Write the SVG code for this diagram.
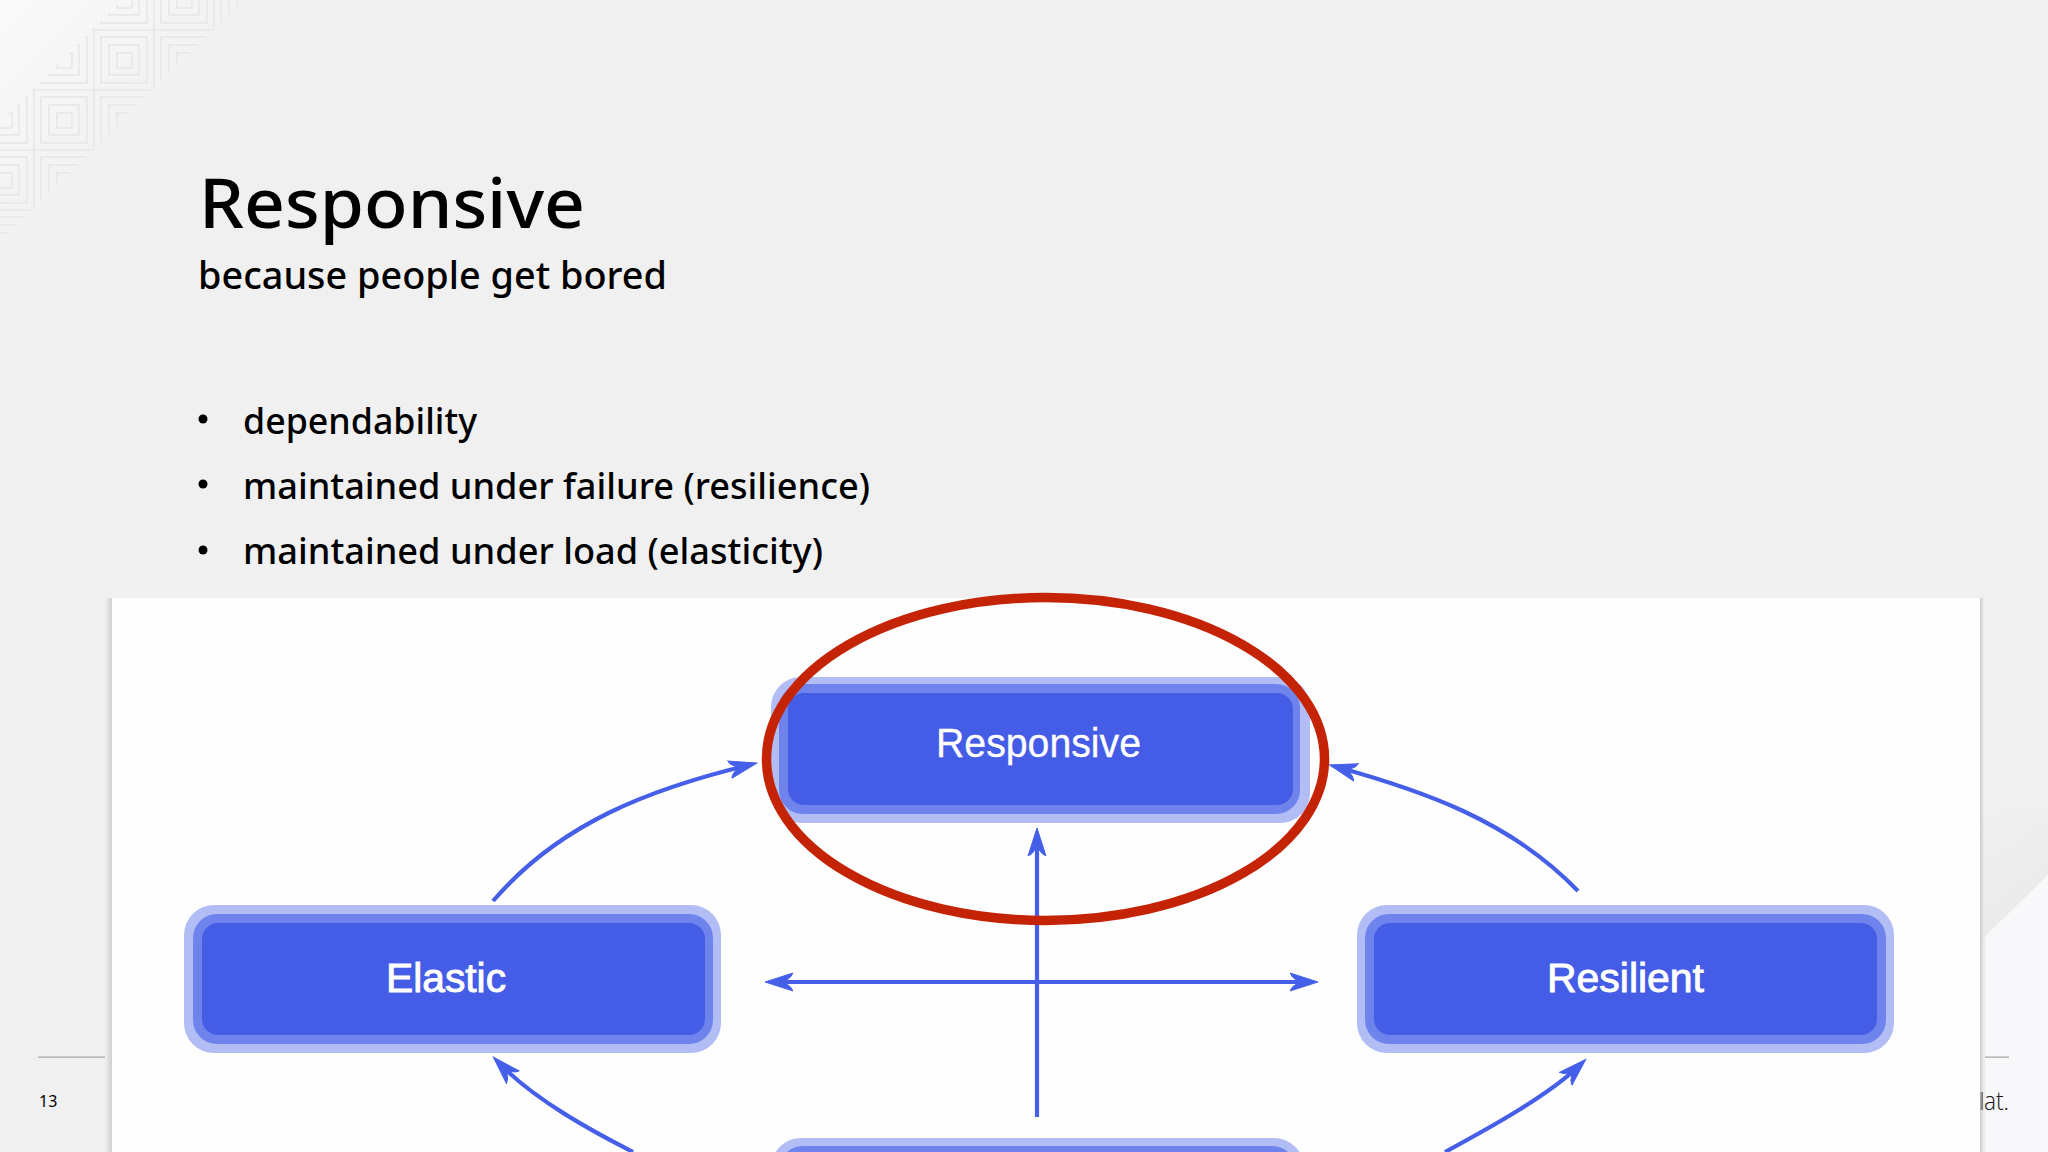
<svg xmlns="http://www.w3.org/2000/svg" width="2048" height="1152" viewBox="0 0 2048 1152">
<style>
.slide{font-family:"Noto Sans","Liberation Sans",sans-serif;font-weight:500;fill:#000}
.nl{font-family:"Liberation Sans",Arial,sans-serif;font-size:40px;fill:#fff;stroke:#fff;stroke-width:.3}
.bold{stroke-width:.9}
.o{fill:#b2bdf5}.m{fill:#6e84ec}.i{fill:#455de6}
.c{fill:none;stroke:#465fe8;stroke-width:4.2;marker-end:url(#head)}
</style>
<defs>
<linearGradient id="corner" gradientUnits="userSpaceOnUse" x1="0" y1="0" x2="122" y2="122"><stop offset="0" stop-color="#fafafa"/><stop offset="1" stop-color="#f2f2f2"/></linearGradient>
<linearGradient id="br" gradientUnits="userSpaceOnUse" x1="1960" y1="830" x2="2015" y2="905"><stop offset="0" stop-color="#f0f0f0"/><stop offset="1" stop-color="#ebebec"/></linearGradient>
<linearGradient id="shL" x1="0" x2="1" y1="0" y2="0"><stop offset="0" stop-color="#f0f0f0"/><stop offset="1" stop-color="#cfcfcf"/></linearGradient>
<linearGradient id="shR" x1="0" x2="1" y1="0" y2="0"><stop offset="0" stop-color="#b8b8b8"/><stop offset="1" stop-color="#f0f0f0" stop-opacity="0"/></linearGradient>
<pattern id="tile" patternUnits="userSpaceOnUse" x="34" y="30" width="60" height="60">
<g fill="none" stroke="#e7e7e7" stroke-width="1.6"><rect x="0" y="0" width="60" height="60"/><rect x="7" y="7" width="46" height="46"/><rect x="15" y="15" width="30" height="30"/><rect x="23" y="23" width="15" height="15"/></g>
</pattern>
<marker id="head" markerUnits="userSpaceOnUse" markerWidth="34" markerHeight="24" refX="20" refY="11" orient="auto-start-reverse"><path d="M28,11 L0,2 L2.5,6 L9,11 L2.5,16 L0,20 Z" fill="#465fe8" stroke="#465fe8" stroke-width="1"/></marker>
</defs>

<rect width="2048" height="1152" fill="#f0f0f0"/>
<polygon points="0,0 245,0 0,245" fill="url(#corner)"/>
<polygon points="122,0 243,0 0,243 0,122" fill="url(#tile)"/>
<polygon points="1960,810 2048,810 2048,875 1960,960" fill="url(#br)"/>
<polygon points="1985,937 2048,875 2048,1152 1985,1152" fill="#f8f7f9"/>

<text class="slide" x="199" y="228" font-size="69" textLength="386" lengthAdjust="spacingAndGlyphs">Responsive</text>
<text class="slide" x="198" y="289" font-size="38" textLength="469" lengthAdjust="spacingAndGlyphs">because people get bored</text>
<g>
<circle cx="203" cy="419" r="4.5"/><circle cx="203" cy="484" r="4.5"/><circle cx="203" cy="550" r="4.5"/>
<text class="slide" x="243" y="434" font-size="37" textLength="234" lengthAdjust="spacingAndGlyphs">dependability</text>
<text class="slide" x="243" y="499" font-size="37" textLength="627" lengthAdjust="spacingAndGlyphs">maintained under failure (resilience)</text>
<text class="slide" x="243" y="564" font-size="37" textLength="580" lengthAdjust="spacingAndGlyphs">maintained under load (elasticity)</text>
</g>

<rect x="38" y="1056.5" width="70" height="1.3" fill="#a9a9a9"/>
<rect x="1985" y="1056.5" width="24" height="1.3" fill="#a9a9a9"/>
<text x="39" y="1107" font-family="'Noto Sans','Liberation Sans',sans-serif" font-size="16" fill="#000">13</text>
<text x="1984" y="1110" font-family="'Open Sans',sans-serif" font-weight="300" font-size="26" fill="#111" textLength="25" lengthAdjust="spacingAndGlyphs">at.</text>
<rect x="1980" y="1092" width="3" height="18" fill="#222"/>

<rect x="105" y="598" width="7" height="554" fill="url(#shL)"/>
<rect x="1979" y="598" width="7" height="554" fill="url(#shR)"/>
<rect x="112" y="598" width="1868" height="554" fill="#fefefe"/>

<g id="node-responsive">
<rect class="o" x="771" y="677" width="539" height="146" rx="30"/>
<rect class="m" x="779" y="684" width="521" height="130" rx="24"/>
<rect class="i" x="788" y="693" width="505" height="112" rx="16"/>
<text class="nl" x="936" y="757" textLength="205" lengthAdjust="spacingAndGlyphs">Responsive</text>
</g>
<g id="node-elastic">
<rect class="o" x="184" y="905" width="537" height="148" rx="30"/>
<rect class="m" x="193" y="914" width="520" height="130" rx="24"/>
<rect class="i" x="202" y="923" width="503" height="112" rx="16"/>
<text class="nl bold" x="386" y="992" textLength="120" lengthAdjust="spacingAndGlyphs">Elastic</text>
</g>
<g id="node-resilient">
<rect class="o" x="1357" y="905" width="537" height="148" rx="30"/>
<rect class="m" x="1365" y="914" width="521" height="130" rx="24"/>
<rect class="i" x="1374" y="923" width="503" height="112" rx="16"/>
<text class="nl bold" x="1547" y="992" textLength="157" lengthAdjust="spacingAndGlyphs">Resilient</text>
</g>
<g id="node-bottom">
<rect class="o" x="771" y="1138" width="533" height="148" rx="30"/>
<rect class="m" x="779" y="1146" width="517" height="130" rx="24"/>
</g>

<g id="connectors">
<path class="c" d="M493,901 C560,823 650,789 749,765"/>
<path class="c" d="M1578,891 C1510,820 1420,790 1337,767"/>
<path class="c" d="M633,1152 C590,1130 535,1100 499,1063"/>
<path class="c" d="M1445,1152 C1495,1125 1550,1094 1580,1065"/>
<path class="c" d="M773,982 H1310" style="marker-start:url(#head)"/>
<path class="c" d="M1037,1117 V836"/>
</g>

<ellipse id="highlight" cx="1045.5" cy="759" rx="279" ry="161.5" fill="none" stroke="#c42306" stroke-width="9.5"/>
</svg>
